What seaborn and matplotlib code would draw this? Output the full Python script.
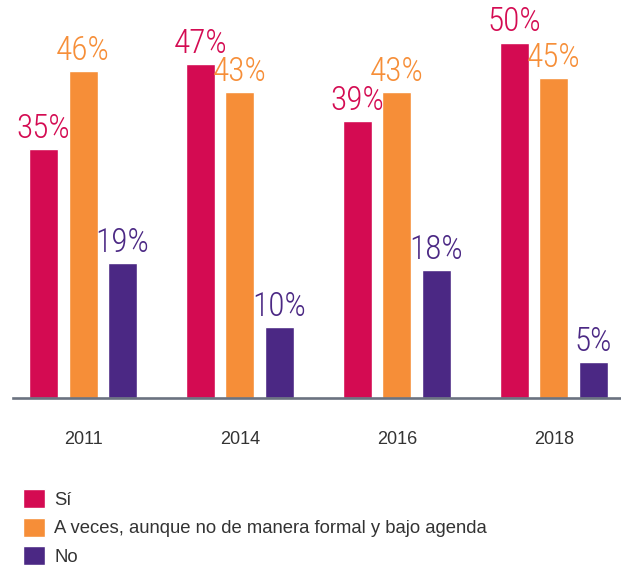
import seaborn as sns
import matplotlib.pyplot as plt
from matplotlib import font_manager
import pandas as pd

# datos
years = ["2011", "2014", "2016", "2018"]
respuestas = ["Sí", "A veces, aunque no de manera formal y bajo agenda", "No"]
si = [35, 47, 39, 50]
a_veces = [46, 43, 43, 45]
no = [19, 10, 18, 5]
colores = ["#D40B52", "#F68E38", "#4B2884"]

rows = []
for serie, vals in zip(respuestas, [si, a_veces, no]):
    for y, v in zip(years, vals):
        rows.append({"year": y, "respuesta": serie, "valor": v})
df = pd.DataFrame(rows)

sns.set_style("white")
plt.rcParams['font.family'] = ['Liberation Sans', 'DejaVu Sans']

# fuente estrecha para las etiquetas, si hay alguna instalada
instaladas = {f.name for f in font_manager.fontManager.ttflist}
label_font, label_size = "Liberation Sans", 18
for nombre, tam in [("Roboto Condensed", 24), ("Open Sans Condensed", 24),
                    ("Liberation Sans Narrow", 21)]:
    if nombre in instaladas:
        label_font, label_size = nombre, tam
        break

fig = plt.figure(figsize=(6.21, 5.65), dpi=100)
# ejes ubicados en pixeles del original
ax = fig.add_axes([13 / 621, (565 - 398) / 565, 608 / 621, 398 / 565])

sns.barplot(data=df, x="year", y="valor", hue="respuesta", hue_order=respuestas,
            order=years, palette=colores, width=0.755, gap=0.266, ax=ax,
            saturation=1, errorbar=None)

for cont, c in zip(ax.containers, colores):
    ax.bar_label(cont, labels=[f"{int(b.get_height())}%" for b in cont],
                 padding=3, color=c, fontsize=label_size,
                 family=[label_font, 'DejaVu Sans'], fontweight="light")

ax.set_xlim(-0.446, 3.427)
ax.set_ylim(0, 56)
ax.set_xlabel("")
ax.set_ylabel("")
ax.set_yticks([])
ax.tick_params(axis="x", length=0, pad=24, labelsize=13, labelcolor="#333333")
for s in ["top", "left", "right"]:
    ax.spines[s].set_visible(False)
ax.spines["bottom"].set_color("#6b7280")
ax.spines["bottom"].set_linewidth(1.9)

h, l = ax.get_legend_handles_labels()
ax.legend_.remove()
fig.legend(h, l, loc="upper left", bbox_to_anchor=(23 / 621, 1 - 489 / 565),
           frameon=False, fontsize=13.3, handlelength=1.2, handleheight=1.2,
           labelspacing=0.48, handletextpad=0.5, borderpad=0, borderaxespad=0,
           labelcolor="#333333")

plt.savefig("out.png", dpi=100)
